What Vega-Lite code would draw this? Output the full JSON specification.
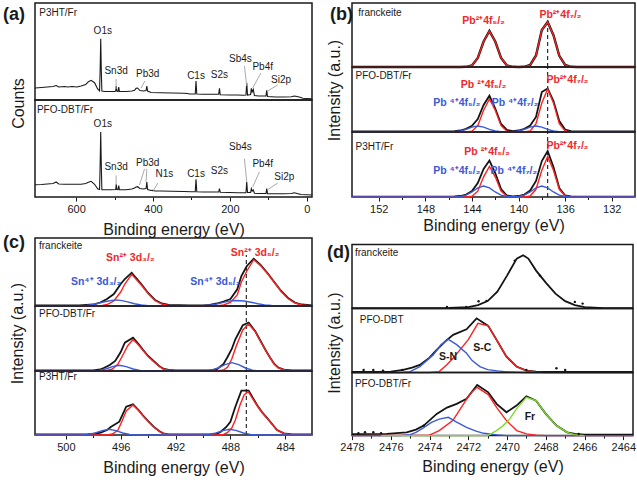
{
"$schema": "https://vega.github.io/schema/vega-lite/v6.json",
"background": "white",
"padding": {"left": 2, "top": 2, "right": 0, "bottom": 0},
"config": {
 "font": "Liberation Sans",
 "view": {"stroke": "#1a1a1a", "strokeWidth": 1.5},
 "text": {"font": "Liberation Sans"},
 "axis": {"grid": false, "domain": false, "tickColor": "#1a1a1a", "tickSize": 4, "tickWidth": 1, "labelFont": "Liberation Sans", "labelFontSize": 11, "labelColor": "#1a1a1a", "labelPadding": 2, "labelFlush": false, "labelOverlap": false, "titleFont": "Liberation Sans", "titleFontSize": 16, "titleFontWeight": "normal", "titleColor": "#1a1a1a"}
},
"spacing": 8,
"hconcat": [
 {"spacing": -6, "vconcat": [
  {"bounds": "flush", "spacing": 0, "vconcat": [
   {"width": 277, "height": 97,
    "encoding": {
     "x": {"field": "x", "type": "quantitative", "scale": {"domain": [707, -13.8], "nice": false, "zero": false}, "axis": null},
     "y": {"field": "y", "type": "quantitative", "scale": {"domain": [0, 97], "nice": false, "zero": false}, "axis": {"title": "Counts", "labels": false, "ticks": false, "titleY": 100, "titlePadding": 9}}},
    "layer": [
     {"data": {"values": [{"x":707,"y":12},{"x":690,"y":12.5},{"x":675,"y":13},{"x":660,"y":13.5},{"x":652,"y":14.5},{"x":645,"y":13},{"x":630,"y":13.5},{"x":622,"y":13},{"x":610,"y":13.5},{"x":598,"y":13},{"x":587,"y":14},{"x":575,"y":15.5},{"x":568,"y":18.3},{"x":561,"y":19.7},{"x":552,"y":17.3},{"x":544,"y":11},{"x":539,"y":9},{"x":537.5,"y":30},{"x":536,"y":61.3},{"x":534.5,"y":30},{"x":533,"y":9},{"x":525,"y":8.5},{"x":510,"y":8.5},{"x":500,"y":8.5},{"x":497,"y":9},{"x":495.5,"y":14},{"x":494,"y":9},{"x":491,"y":8.5},{"x":489,"y":13},{"x":487.5,"y":8.5},{"x":470,"y":8.5},{"x":455,"y":9},{"x":448,"y":9.7},{"x":444,"y":11.7},{"x":440,"y":12},{"x":434,"y":9.5},{"x":425,"y":9},{"x":418,"y":9.5},{"x":416,"y":14},{"x":414,"y":9},{"x":405,"y":7.5},{"x":380,"y":7.3},{"x":350,"y":7},{"x":320,"y":6.8},{"x":310,"y":6.5},{"x":305,"y":6},{"x":290,"y":6},{"x":288,"y":19},{"x":286,"y":6},{"x":270,"y":5.8},{"x":240,"y":5.7},{"x":229,"y":5.7},{"x":227,"y":11.7},{"x":225,"y":5.3},{"x":200,"y":5},{"x":180,"y":5},{"x":165,"y":4.8},{"x":158,"y":5},{"x":156,"y":17.3},{"x":154,"y":5},{"x":146,"y":5.5},{"x":144,"y":11.7},{"x":142,"y":8},{"x":139,"y":10.7},{"x":136,"y":4.5},{"x":125,"y":4},{"x":110,"y":4},{"x":106,"y":4},{"x":104,"y":9.7},{"x":102,"y":3.5},{"x":80,"y":3},{"x":60,"y":3},{"x":40,"y":3.2},{"x":32,"y":4},{"x":25,"y":3.5},{"x":15,"y":2.5},{"x":10,"y":1.7},{"x":0,"y":1.5},{"x":-13.8,"y":1.3}]},
      "mark": {"type": "line", "color": "#1a1a1a", "strokeWidth": 1.1}},
     {"data": {"values": [{"x":496,"y":11,"x2":496,"y2":21},{"x":431,"y":12,"x2":421,"y2":19},{"x":156,"y":14,"x2":162,"y2":34},{"x":140.5,"y":12,"x2":119,"y2":27},{"x":101.5,"y":9,"x2":75.5,"y2":15}]},
      "mark": {"type": "rule", "color": "#a0a0a0", "strokeWidth": 0.9}, "encoding": {"x2": {"field": "x2"}, "y2": {"field": "y2"}}},
     {"data": {"values": [{"x":530.6,"y":69,"t":"O1s"},{"x":496,"y":29,"t":"Sn3d"},{"x":413.6,"y":26.3,"t":"Pb3d"},{"x":288,"y":24,"t":"C1s"},{"x":227,"y":25,"t":"S2s"},{"x":172.6,"y":40.7,"t":"Sb4s"},{"x":114.5,"y":33,"t":"Pb4f"},{"x":66.8,"y":19.7,"t":"Si2p"}]},
      "mark": {"type": "text", "fontSize": 10, "color": "#1a1a1a"}, "encoding": {"text": {"field": "t"}}},
     {"data": {"values": [{"x":696,"y":87.3,"t":"P3HT/Fr"}]},
      "mark": {"type": "text", "align": "left", "fontSize": 10, "color": "#1a1a1a"}, "encoding": {"text": {"field": "t"}}},
     {"data": {"values": [{"x":790.3,"y":80,"t":"(a)"}]},
      "mark": {"type": "text", "align": "left", "baseline": "alphabetic", "fontSize": 18, "fontWeight": "bold", "color": "#1a1a1a"}, "encoding": {"text": {"field": "t"}}}
    ]},
   {"width": 277, "height": 97,
    "resolve": {"axis": {"x": "independent"}},
    "encoding": {
     "x": {"field": "x", "type": "quantitative", "scale": {"domain": [707, -13.8], "nice": false, "zero": false}, "axis": null},
     "y": {"field": "y", "type": "quantitative", "scale": {"domain": [0, 97], "nice": false, "zero": false}, "axis": null}},
    "layer": [
     {"data": {"values": [{"x":707,"y":12.3},{"x":690,"y":12.5},{"x":675,"y":13},{"x":660,"y":13.5},{"x":652,"y":15},{"x":645,"y":13},{"x":630,"y":12.7},{"x":610,"y":12.7},{"x":587,"y":12.7},{"x":575,"y":13.5},{"x":568,"y":14.7},{"x":561,"y":15.7},{"x":552,"y":12.7},{"x":544,"y":8.3},{"x":539,"y":7.5},{"x":537.5,"y":32},{"x":536,"y":65},{"x":534.5,"y":32},{"x":533,"y":7.3},{"x":525,"y":7.3},{"x":510,"y":7.3},{"x":497,"y":7.5},{"x":495.5,"y":12.7},{"x":494,"y":7.5},{"x":491,"y":7.3},{"x":489,"y":11.3},{"x":487.5,"y":7.3},{"x":470,"y":7.3},{"x":455,"y":8},{"x":448,"y":9},{"x":444,"y":10},{"x":440,"y":10.3},{"x":434,"y":8.5},{"x":425,"y":8},{"x":418,"y":8.5},{"x":416,"y":15},{"x":414,"y":7.5},{"x":405,"y":6.5},{"x":400,"y":6.8},{"x":395,"y":6},{"x":380,"y":6},{"x":350,"y":5.8},{"x":320,"y":5.5},{"x":300,"y":5.3},{"x":290,"y":5.3},{"x":288,"y":17.7},{"x":286,"y":5.2},{"x":270,"y":5},{"x":240,"y":5},{"x":229,"y":5},{"x":227,"y":8.3},{"x":225,"y":4.8},{"x":200,"y":4.5},{"x":180,"y":4.3},{"x":165,"y":4.2},{"x":158,"y":4.3},{"x":156,"y":15},{"x":154,"y":4.5},{"x":146,"y":4.5},{"x":144,"y":8.3},{"x":142,"y":6},{"x":139,"y":7},{"x":136,"y":3.8},{"x":125,"y":3.5},{"x":110,"y":3.5},{"x":106,"y":3.5},{"x":104,"y":8.3},{"x":102,"y":3.3},{"x":80,"y":3.3},{"x":60,"y":3.3},{"x":40,"y":3.5},{"x":32,"y":4.2},{"x":25,"y":3.5},{"x":15,"y":2.5},{"x":0,"y":2.3},{"x":-13.8,"y":2}]},
      "mark": {"type": "line", "color": "#1a1a1a", "strokeWidth": 1.1}},
     {"data": {"values": [{"x":496,"y":12,"x2":496,"y2":21.7},{"x":435,"y":12,"x2":422,"y2":28},{"x":418,"y":15,"x2":416,"y2":28},{"x":400.6,"y":5,"x2":387.6,"y2":14},{"x":156,"y":15,"x2":162,"y2":38.3},{"x":140.5,"y":10,"x2":123.2,"y2":25},{"x":101.5,"y":7.3,"x2":75.5,"y2":14}]},
      "mark": {"type": "rule", "color": "#a0a0a0", "strokeWidth": 0.9}, "encoding": {"x2": {"field": "x2"}, "y2": {"field": "y2"}}},
     {"data": {"values": [{"x":530.6,"y":72.7,"t":"O1s"},{"x":496,"y":30,"t":"Sn3d"},{"x":413.6,"y":34,"t":"Pb3d"},{"x":370.3,"y":22.7,"t":"N1s"},{"x":288,"y":23.3,"t":"C1s"},{"x":227.2,"y":26,"t":"S2s"},{"x":172.6,"y":50,"t":"Sb4s"},{"x":114.5,"y":32.7,"t":"Pb4f"},{"x":58.2,"y":20,"t":"Si2p"}]},
      "mark": {"type": "text", "fontSize": 10, "color": "#1a1a1a"}, "encoding": {"text": {"field": "t"}}},
     {"data": {"values": [{"x":702,"y":87,"t":"PFO-DBT/Fr"}]},
      "mark": {"type": "text", "align": "left", "fontSize": 10, "color": "#1a1a1a"}, "encoding": {"text": {"field": "t"}}},
     {"data": {"values": [{"x":600,"y":0}]}, "mark": {"type": "point", "opacity": 0},
      "encoding": {"x": {"field": "x", "type": "quantitative", "scale": {"domain": [707, -13.8], "nice": false, "zero": false}, "axis": {"orient": "bottom", "values": [600, 400, 200, 0], "format": "d", "title": "Binding energy (eV)", "titlePadding": 7}}}},
     {"data": {"values": [{"x":500,"y":0}]}, "mark": {"type": "point", "opacity": 0},
      "encoding": {"x": {"field": "x", "type": "quantitative", "scale": {"domain": [707, -13.8], "nice": false, "zero": false}, "axis": {"orient": "bottom", "values": [500, 300, 100], "labels": false, "tickSize": 2.5, "title": null}}}}
    ]}
  ]},
  {"bounds": "flush", "spacing": 0, "vconcat": [
   {"width": 277, "height": 68,
    "encoding": {
     "x": {"field": "x", "type": "quantitative", "scale": {"domain": [502.25, 482.05], "nice": false, "zero": false}, "axis": null},
     "y": {"field": "y", "type": "quantitative", "scale": {"domain": [0, 68], "nice": false, "zero": false}, "axis": null}},
    "layer": [
     {"data": {"values": [{"x":486.84,"y":0,"y2":51}]}, "mark": {"type": "rule", "color": "#1a1a1a", "strokeDash": [4, 3], "strokeWidth": 1.1}, "encoding": {"y2": {"field": "y2"}}},
     {"data": {"values": [{"x":502.25,"y":0.5},{"x":499,"y":0.5},{"x":498,"y":1.5},{"x":497.5,"y":3.5},{"x":497,"y":7},{"x":496.5,"y":12},{"x":496,"y":22},{"x":495.7,"y":27},{"x":495.2,"y":33.3},{"x":494.5,"y":22},{"x":494,"y":13},{"x":493.5,"y":6},{"x":493,"y":2.5},{"x":492.5,"y":1},{"x":491,"y":0.5},{"x":490,"y":0.5},{"x":489.5,"y":1},{"x":489,"y":2.5},{"x":488.5,"y":4.5},{"x":488,"y":7},{"x":487.5,"y":16.7},{"x":487.2,"y":30},{"x":486.8,"y":40},{"x":486.3,"y":47.3},{"x":485.8,"y":41},{"x":485.3,"y":33},{"x":484.8,"y":24},{"x":484.3,"y":15},{"x":483.8,"y":8},{"x":483.3,"y":3.5},{"x":482.8,"y":1.5},{"x":482.05,"y":0.5}]},
      "mark": {"type": "line", "color": "#141414", "strokeWidth": 1.8}},
     {"data": {"values": [{"x":502.25,"y":0},{"x":497.5,"y":0},{"x":497,"y":1.5},{"x":496.5,"y":5},{"x":496,"y":14},{"x":495.7,"y":22},{"x":495.2,"y":31.7},{"x":494.5,"y":21},{"x":494,"y":12.5},{"x":493.5,"y":5.5},{"x":493,"y":2},{"x":492.5,"y":0.5},{"x":492,"y":0},{"x":489,"y":0},{"x":488.5,"y":1},{"x":488,"y":3.5},{"x":487.5,"y":11},{"x":487.2,"y":24},{"x":486.8,"y":35},{"x":486.3,"y":46.3},{"x":485.8,"y":40.5},{"x":485.3,"y":32.5},{"x":484.8,"y":23.5},{"x":484.3,"y":14.5},{"x":483.8,"y":7.5},{"x":483.3,"y":3},{"x":482.8,"y":1},{"x":482.05,"y":0}]},
      "mark": {"type": "line", "color": "#ff2020", "strokeWidth": 1.4}},
     {"data": {"values": [{"x":502.25,"y":0},{"x":499.5,"y":0},{"x":499,"y":0.1},{"x":498.5,"y":0.5},{"x":498,"y":1.5},{"x":497.5,"y":3.2},{"x":497,"y":4.8},{"x":496.5,"y":5.9},{"x":496.4,"y":6},{"x":496,"y":5.6},{"x":495.5,"y":4.1},{"x":495,"y":2.3},{"x":494.5,"y":1},{"x":494,"y":0.3},{"x":493.5,"y":0.1},{"x":493,"y":0},{"x":491,"y":0},{"x":490.5,"y":0.1},{"x":490,"y":0.3},{"x":489.5,"y":0.9},{"x":489,"y":2},{"x":488.5,"y":3.6},{"x":488,"y":5.1},{"x":487.6,"y":5.5},{"x":487,"y":5},{"x":486.5,"y":3.8},{"x":486,"y":2.3},{"x":485.5,"y":1.1},{"x":485,"y":0.5},{"x":484.5,"y":0.15},{"x":484,"y":0},{"x":482.05,"y":0}]},
      "mark": {"type": "line", "color": "#3a5ad8", "strokeWidth": 1.4}},
     {"data": {"values": [{"x":501.96,"y":59.7,"t":"franckeite"}]}, "mark": {"type": "text", "align": "left", "fontSize": 10, "color": "#1a1a1a"}, "encoding": {"text": {"field": "t"}}},
     {"data": {"values": [{"x":495.3,"y":48.4,"t":"Sn²⁺ 3d₃/₂"},{"x":486.2,"y":53.4,"t":"Sn²⁺ 3d₅/₂"}]}, "mark": {"type": "text", "fontSize": 10.5, "fontWeight": "bold", "color": "#f0282d"}, "encoding": {"text": {"field": "t"}}},
     {"data": {"values": [{"x":497.8,"y":24,"t":"Sn⁴⁺ 3d₃/₂"},{"x":489.1,"y":24,"t":"Sn⁴⁺ 3d₅/₂"}]}, "mark": {"type": "text", "fontSize": 10.5, "fontWeight": "bold", "color": "#3a5ad8"}, "encoding": {"text": {"field": "t"}}},
     {"data": {"values": [{"x":504.58,"y":58,"t":"(c)"}]},
      "mark": {"type": "text", "align": "left", "baseline": "alphabetic", "fontSize": 18, "fontWeight": "bold", "color": "#1a1a1a"}, "encoding": {"text": {"field": "t"}}}
    ]},
   {"width": 277, "height": 65,
    "encoding": {
     "x": {"field": "x", "type": "quantitative", "scale": {"domain": [502.25, 482.05], "nice": false, "zero": false}, "axis": null},
     "y": {"field": "y", "type": "quantitative", "scale": {"domain": [0, 65], "nice": false, "zero": false}, "axis": {"title": "Intensity (a.u.)", "labels": false, "ticks": false, "titleY": 27, "titlePadding": 9.5}}},
    "layer": [
     {"data": {"values": [{"x":486.84,"y":0,"y2":65}]}, "mark": {"type": "rule", "color": "#1a1a1a", "strokeDash": [4, 3], "strokeWidth": 1.1}, "encoding": {"y2": {"field": "y2"}}},
     {"data": {"values": [{"x":502.25,"y":0.5},{"x":498,"y":0.5},{"x":497.5,"y":1.5},{"x":497.2,"y":3.3},{"x":496.8,"y":6},{"x":496.4,"y":10},{"x":496,"y":19},{"x":495.7,"y":28.3},{"x":495.1,"y":33.3},{"x":494.7,"y":27},{"x":494.4,"y":21.7},{"x":494,"y":15},{"x":493.6,"y":10},{"x":493.2,"y":5},{"x":492.9,"y":2.3},{"x":492.5,"y":1},{"x":492,"y":0.5},{"x":489.5,"y":0.5},{"x":489,"y":1.5},{"x":488.85,"y":3.3},{"x":488.5,"y":7},{"x":488.24,"y":13.3},{"x":487.9,"y":22},{"x":487.64,"y":31.7},{"x":487.1,"y":45.7},{"x":486.67,"y":48.3},{"x":486.2,"y":40},{"x":485.8,"y":30},{"x":485.4,"y":20},{"x":485.1,"y":13.3},{"x":484.8,"y":7},{"x":484.5,"y":3.3},{"x":484,"y":1},{"x":483.5,"y":0.5},{"x":482.05,"y":0.5}]},
      "mark": {"type": "line", "color": "#141414", "strokeWidth": 1.8}},
     {"data": {"values": [{"x":502.25,"y":0},{"x":497.5,"y":0},{"x":497,"y":0.5},{"x":496.6,"y":2},{"x":496.2,"y":7},{"x":495.8,"y":17},{"x":495.5,"y":25},{"x":495.1,"y":31.5},{"x":494.7,"y":26},{"x":494.4,"y":21},{"x":494,"y":14.5},{"x":493.6,"y":9.5},{"x":493.2,"y":4.8},{"x":492.9,"y":2},{"x":492.5,"y":0.7},{"x":492,"y":0},{"x":489,"y":0},{"x":488.5,"y":1},{"x":488.2,"y":4},{"x":487.9,"y":12},{"x":487.6,"y":24},{"x":487.1,"y":41},{"x":486.67,"y":47},{"x":486.2,"y":39.5},{"x":485.8,"y":29.5},{"x":485.4,"y":19.8},{"x":485.1,"y":13},{"x":484.8,"y":6.8},{"x":484.5,"y":3},{"x":484,"y":0.8},{"x":483.5,"y":0},{"x":482.05,"y":0}]},
      "mark": {"type": "line", "color": "#ff2020", "strokeWidth": 1.4}},
     {"data": {"values": [{"x":502.25,"y":0},{"x":498.6,"y":0},{"x":498.1,"y":0.1},{"x":497.6,"y":0.57},{"x":497.1,"y":2.05},{"x":496.6,"y":4.4},{"x":496.1,"y":5.7},{"x":495.6,"y":4.4},{"x":495.1,"y":2.05},{"x":494.6,"y":0.57},{"x":494.1,"y":0.1},{"x":493.6,"y":0},{"x":490.4,"y":0},{"x":489.9,"y":0.14},{"x":489.4,"y":0.83},{"x":488.9,"y":3},{"x":488.4,"y":6.4},{"x":487.9,"y":8.3},{"x":487.4,"y":6.4},{"x":486.9,"y":3},{"x":486.4,"y":0.83},{"x":485.9,"y":0.14},{"x":485.4,"y":0},{"x":482.05,"y":0}]},
      "mark": {"type": "line", "color": "#3a5ad8", "strokeWidth": 1.4}},
     {"data": {"values": [{"x":501.96,"y":56.7,"t":"PFO-DBT/Fr"}]}, "mark": {"type": "text", "align": "left", "fontSize": 10, "color": "#1a1a1a"}, "encoding": {"text": {"field": "t"}}}
    ]},
   {"width": 277, "height": 64,
    "resolve": {"axis": {"x": "independent"}},
    "encoding": {
     "x": {"field": "x", "type": "quantitative", "scale": {"domain": [502.25, 482.05], "nice": false, "zero": false}, "axis": null},
     "y": {"field": "y", "type": "quantitative", "scale": {"domain": [0, 64], "nice": false, "zero": false}, "axis": null}},
    "layer": [
     {"data": {"values": [{"x":486.84,"y":0,"y2":64}]}, "mark": {"type": "rule", "color": "#1a1a1a", "strokeDash": [4, 3], "strokeWidth": 1.1}, "encoding": {"y2": {"field": "y2"}}},
     {"data": {"values": [{"x":502.25,"y":0.5},{"x":498.5,"y":0.5},{"x":498,"y":1},{"x":497.45,"y":2.3},{"x":497,"y":5},{"x":496.7,"y":8.3},{"x":496.1,"y":13.3},{"x":495.6,"y":28.3},{"x":495.1,"y":30.7},{"x":494.7,"y":25},{"x":494.4,"y":20},{"x":494,"y":14},{"x":493.6,"y":8.3},{"x":493.2,"y":4},{"x":492.9,"y":1.7},{"x":492.5,"y":0.7},{"x":492,"y":0.5},{"x":489.5,"y":0.5},{"x":489,"y":1.2},{"x":488.7,"y":3.3},{"x":488.3,"y":8},{"x":488,"y":13.3},{"x":487.64,"y":28.3},{"x":487.2,"y":44.3},{"x":486.67,"y":44.3},{"x":486.06,"y":30},{"x":485.7,"y":23},{"x":485.3,"y":16.7},{"x":484.9,"y":10},{"x":484.6,"y":5},{"x":484.1,"y":1.7},{"x":483.5,"y":0.5},{"x":482.05,"y":0.5}]},
      "mark": {"type": "line", "color": "#141414", "strokeWidth": 1.8}},
     {"data": {"values": [{"x":502.25,"y":0},{"x":497,"y":0},{"x":496.6,"y":1},{"x":496.2,"y":5},{"x":495.9,"y":14},{"x":495.6,"y":24},{"x":495.1,"y":30},{"x":494.7,"y":24.5},{"x":494.4,"y":19.5},{"x":494,"y":13.5},{"x":493.6,"y":8},{"x":493.2,"y":3.8},{"x":492.9,"y":1.5},{"x":492.5,"y":0.5},{"x":492,"y":0},{"x":489,"y":0},{"x":488.5,"y":0.5},{"x":488.2,"y":2.5},{"x":487.9,"y":7},{"x":487.64,"y":15},{"x":487.3,"y":30},{"x":487,"y":40},{"x":486.7,"y":43.3},{"x":486.06,"y":29.5},{"x":485.7,"y":22.5},{"x":485.3,"y":16.3},{"x":484.9,"y":9.7},{"x":484.6,"y":4.8},{"x":484.1,"y":1.5},{"x":483.5,"y":0},{"x":482.05,"y":0}]},
      "mark": {"type": "line", "color": "#ff2020", "strokeWidth": 1.4}},
     {"data": {"values": [{"x":502.25,"y":0},{"x":499.35,"y":0},{"x":498.85,"y":0.1},{"x":498.35,"y":0.57},{"x":497.85,"y":2.05},{"x":497.35,"y":4.4},{"x":496.85,"y":5.7},{"x":496.35,"y":4.4},{"x":495.85,"y":2.05},{"x":495.35,"y":0.57},{"x":494.85,"y":0.1},{"x":494.35,"y":0},{"x":490.55,"y":0},{"x":490.05,"y":0.1},{"x":489.55,"y":0.57},{"x":489.05,"y":2.05},{"x":488.55,"y":4.4},{"x":488.05,"y":5.7},{"x":487.55,"y":4.4},{"x":487.05,"y":2.05},{"x":486.55,"y":0.57},{"x":486.05,"y":0.1},{"x":485.55,"y":0},{"x":482.05,"y":0}]},
      "mark": {"type": "line", "color": "#3a5ad8", "strokeWidth": 1.4}},
     {"data": {"values": [{"x":501.96,"y":58.3,"t":"P3HT/Fr"}]}, "mark": {"type": "text", "align": "left", "fontSize": 10, "color": "#1a1a1a"}, "encoding": {"text": {"field": "t"}}},
     {"data": {"values": [{"x":496,"y":0}]}, "mark": {"type": "point", "opacity": 0},
      "encoding": {"x": {"field": "x", "type": "quantitative", "scale": {"domain": [502.25, 482.05], "nice": false, "zero": false}, "axis": {"orient": "bottom", "values": [500, 496, 492, 488, 484], "format": "d", "title": "Binding energy (eV)", "titlePadding": 7}}}},
     {"data": {"values": [{"x":498,"y":0}]}, "mark": {"type": "point", "opacity": 0},
      "encoding": {"x": {"field": "x", "type": "quantitative", "scale": {"domain": [502.25, 482.05], "nice": false, "zero": false}, "axis": {"orient": "bottom", "values": [498, 494, 490, 486], "labels": false, "tickSize": 2.5, "title": null}}}}
    ]}
  ]}
 ]},
 {"spacing": 8.6, "vconcat": [
  {"bounds": "flush", "spacing": 0, "vconcat": [
   {"width": 283, "height": 64,
    "encoding": {
     "x": {"field": "x", "type": "quantitative", "scale": {"domain": [154.3, 130], "nice": false, "zero": false}, "axis": null},
     "y": {"field": "y", "type": "quantitative", "scale": {"domain": [0, 64], "nice": false, "zero": false}, "axis": null}},
    "layer": [
     {"data": {"values": [{"x":137.5,"y":0,"y2":49}]}, "mark": {"type": "rule", "color": "#1a1a1a", "strokeDash": [4, 3], "strokeWidth": 1.1}, "encoding": {"y2": {"field": "y2"}}},
     {"data": {"values": [{"x":154.3,"y":0},{"x":146,"y":0},{"x":145,"y":0},{"x":144.5,"y":0.2},{"x":144,"y":1.6},{"x":143.5,"y":9},{"x":143,"y":25.5},{"x":142.5,"y":36},{"x":142,"y":25.5},{"x":141.5,"y":9},{"x":141,"y":1.6},{"x":140.5,"y":0.2},{"x":140,"y":0},{"x":139.5,"y":0.2},{"x":139,"y":2},{"x":138.5,"y":11.5},{"x":138,"y":37},{"x":137.5,"y":45},{"x":137,"y":31.8},{"x":136.5,"y":11.2},{"x":136,"y":2},{"x":135.5,"y":0.2},{"x":135,"y":0},{"x":130,"y":0}]},
      "mark": {"type": "line", "color": "#141414", "strokeWidth": 2.4}},
     {"data": {"values": [{"x":154.3,"y":0},{"x":146,"y":0},{"x":145,"y":0},{"x":144.5,"y":0.2},{"x":144,"y":1.6},{"x":143.5,"y":9},{"x":143,"y":25.5},{"x":142.5,"y":36},{"x":142,"y":25.5},{"x":141.5,"y":9},{"x":141,"y":1.6},{"x":140.5,"y":0.2},{"x":140,"y":0},{"x":139.5,"y":0.2},{"x":139,"y":2},{"x":138.5,"y":11.5},{"x":138,"y":37},{"x":137.5,"y":45},{"x":137,"y":31.8},{"x":136.5,"y":11.2},{"x":136,"y":2},{"x":135.5,"y":0.2},{"x":135,"y":0},{"x":130,"y":0}]},
      "mark": {"type": "line", "color": "#ff2020", "strokeWidth": 1.3}},
     {"data": {"values": [{"x":153.76,"y":54.3,"t":"franckeite"}]}, "mark": {"type": "text", "align": "left", "fontSize": 10, "color": "#1a1a1a"}, "encoding": {"text": {"field": "t"}}},
     {"data": {"values": [{"x":143,"y":46.3,"t":"Pb²⁺4f₅/₂"},{"x":136.4,"y":52,"t":"Pb²⁺4f₇/₂"}]}, "mark": {"type": "text", "fontSize": 10.5, "fontWeight": "bold", "color": "#f0282d"}, "encoding": {"text": {"field": "t"}}},
     {"data": {"values": [{"x":156.19,"y":47,"t":"(b)"}]},
      "mark": {"type": "text", "align": "left", "baseline": "alphabetic", "fontSize": 18, "fontWeight": "bold", "color": "#1a1a1a"}, "encoding": {"text": {"field": "t"}}}
    ]},
   {"width": 283, "height": 65,
    "encoding": {
     "x": {"field": "x", "type": "quantitative", "scale": {"domain": [154.3, 130], "nice": false, "zero": false}, "axis": null},
     "y": {"field": "y", "type": "quantitative", "scale": {"domain": [0, 65], "nice": false, "zero": false}, "axis": {"title": "Intensity (a.u.)", "labels": false, "ticks": false, "titleY": 23, "titlePadding": 9.5}}},
    "layer": [
     {"data": {"values": [{"x":137.5,"y":0,"y2":65}]}, "mark": {"type": "rule", "color": "#1a1a1a", "strokeDash": [4, 3], "strokeWidth": 1.1}, "encoding": {"y2": {"field": "y2"}}},
     {"data": {"values": [{"x":154.3,"y":0.5},{"x":148,"y":0.5},{"x":146,"y":0.6},{"x":145.5,"y":0.8},{"x":145,"y":1.5},{"x":144.5,"y":3.2},{"x":144,"y":6.2},{"x":143.5,"y":13},{"x":143,"y":27},{"x":142.5,"y":36.3},{"x":142,"y":23.5},{"x":141.5,"y":8},{"x":141,"y":2},{"x":140.5,"y":0.8},{"x":140,"y":1.5},{"x":139.5,"y":3.2},{"x":139,"y":6.5},{"x":138.5,"y":15},{"x":138,"y":40},{"x":137.5,"y":43.5},{"x":137,"y":31},{"x":136.5,"y":11},{"x":136,"y":2.5},{"x":135.5,"y":0.8},{"x":135,"y":0.5},{"x":130,"y":0.5}]},
      "mark": {"type": "line", "color": "#141414", "strokeWidth": 1.8}},
     {"data": {"values": [{"x":154.3,"y":0},{"x":145,"y":0},{"x":144.5,"y":0.05},{"x":144,"y":0.8},{"x":143.5,"y":6.3},{"x":143,"y":21.8},{"x":142.5,"y":33},{"x":142,"y":21.8},{"x":141.5,"y":6.3},{"x":141,"y":0.8},{"x":140.5,"y":0.05},{"x":140,"y":0},{"x":139.5,"y":0.05},{"x":139,"y":1.1},{"x":138.5,"y":8.4},{"x":138,"y":29.1},{"x":137.5,"y":43},{"x":137,"y":29.1},{"x":136.5,"y":8.4},{"x":136,"y":1.1},{"x":135.5,"y":0.05},{"x":135,"y":0},{"x":130,"y":0}]},
      "mark": {"type": "line", "color": "#ff2020", "strokeWidth": 1.4}},
     {"data": {"values": [{"x":154.3,"y":0},{"x":146.5,"y":0},{"x":146,"y":0.05},{"x":145.5,"y":0.26},{"x":145,"y":1},{"x":144.5,"y":2.7},{"x":144,"y":4.9},{"x":143.5,"y":6},{"x":143,"y":4.9},{"x":142.5,"y":2.7},{"x":142,"y":1},{"x":141.5,"y":0.26},{"x":141,"y":0.1},{"x":140.5,"y":0.26},{"x":140,"y":1},{"x":139.5,"y":2.7},{"x":139,"y":4.9},{"x":138.5,"y":6},{"x":138,"y":4.9},{"x":137.5,"y":2.7},{"x":137,"y":1},{"x":136.5,"y":0.26},{"x":136,"y":0.05},{"x":135.5,"y":0},{"x":130,"y":0}]},
      "mark": {"type": "line", "color": "#3a5ad8", "strokeWidth": 1.4}},
     {"data": {"values": [{"x":154.0,"y":56,"t":"PFO-DBT/Fr"}]}, "mark": {"type": "text", "align": "left", "fontSize": 10, "color": "#1a1a1a"}, "encoding": {"text": {"field": "t"}}},
     {"data": {"values": [{"x":143,"y":47,"t":"Pb ²⁺4f₅/₂"},{"x":135.8,"y":52,"t":"Pb²⁺4f₇/₂"}]}, "mark": {"type": "text", "fontSize": 10.5, "fontWeight": "bold", "color": "#f0282d"}, "encoding": {"text": {"field": "t"}}},
     {"data": {"values": [{"x":145.3,"y":29.3,"t":"Pb ⁴⁺4f₅/₂"},{"x":140.3,"y":29.3,"t":"Pb ⁴⁺4f₇/₂"}]}, "mark": {"type": "text", "fontSize": 10.5, "fontWeight": "bold", "color": "#3a5ad8"}, "encoding": {"text": {"field": "t"}}}
    ]},
   {"width": 283, "height": 65,
    "resolve": {"axis": {"x": "independent"}},
    "encoding": {
     "x": {"field": "x", "type": "quantitative", "scale": {"domain": [154.3, 130], "nice": false, "zero": false}, "axis": null},
     "y": {"field": "y", "type": "quantitative", "scale": {"domain": [0, 65], "nice": false, "zero": false}, "axis": null}},
    "layer": [
     {"data": {"values": [{"x":137.5,"y":0,"y2":65}]}, "mark": {"type": "rule", "color": "#1a1a1a", "strokeDash": [4, 3], "strokeWidth": 1.1}, "encoding": {"y2": {"field": "y2"}}},
     {"data": {"values": [{"x":154.3,"y":0.3},{"x":146,"y":0.3},{"x":145.5,"y":0.5},{"x":145,"y":1},{"x":144.5,"y":2.5},{"x":144,"y":6},{"x":143.5,"y":14},{"x":143,"y":28},{"x":142.5,"y":36.5},{"x":142,"y":24},{"x":141.5,"y":8},{"x":141,"y":1.5},{"x":140.5,"y":0.5},{"x":140,"y":1},{"x":139.5,"y":2.5},{"x":139,"y":6.5},{"x":138.5,"y":16},{"x":138,"y":36},{"x":137.5,"y":46},{"x":137,"y":30},{"x":136.5,"y":9},{"x":136,"y":1.5},{"x":135.5,"y":0.5},{"x":135,"y":0.3},{"x":130,"y":0.3}]},
      "mark": {"type": "line", "color": "#141414", "strokeWidth": 1.8}},
     {"data": {"values": [{"x":154.3,"y":0},{"x":144.5,"y":0},{"x":144,"y":0.7},{"x":143.5,"y":5.8},{"x":143,"y":20.2},{"x":142.5,"y":30.5},{"x":142,"y":20.2},{"x":141.5,"y":5.8},{"x":141,"y":0.7},{"x":140.5,"y":0},{"x":139.5,"y":0},{"x":139,"y":1},{"x":138.5,"y":7.7},{"x":138,"y":26.8},{"x":137.5,"y":40.5},{"x":137,"y":26.8},{"x":136.5,"y":7.7},{"x":136,"y":1},{"x":135.5,"y":0},{"x":130,"y":0}]},
      "mark": {"type": "line", "color": "#ff2020", "strokeWidth": 1.4}},
     {"data": {"values": [{"x":154.3,"y":0},{"x":146,"y":0},{"x":145.5,"y":0.08},{"x":145,"y":0.48},{"x":144.5,"y":1.9},{"x":144,"y":5.04},{"x":143.5,"y":9.05},{"x":143,"y":11},{"x":142.5,"y":9.05},{"x":142,"y":5.04},{"x":141.5,"y":1.9},{"x":141,"y":0.5},{"x":140.5,"y":0.2},{"x":140,"y":0.5},{"x":139.5,"y":1.9},{"x":139,"y":5.04},{"x":138.5,"y":9.05},{"x":138,"y":11},{"x":137.5,"y":9.05},{"x":137,"y":5.04},{"x":136.5,"y":1.9},{"x":136,"y":0.48},{"x":135.5,"y":0.08},{"x":135,"y":0},{"x":130,"y":0}]},
      "mark": {"type": "line", "color": "#3a5ad8", "strokeWidth": 1.4}},
     {"data": {"values": [{"x":154.0,"y":50.3,"t":"P3HT/Fr"}]}, "mark": {"type": "text", "align": "left", "fontSize": 10, "color": "#1a1a1a"}, "encoding": {"text": {"field": "t"}}},
     {"data": {"values": [{"x":142.7,"y":45.3,"t":"Pb ²⁺4f₅/₂"},{"x":135.8,"y":51.3,"t":"Pb²⁺4f₇/₂"}]}, "mark": {"type": "text", "fontSize": 10.5, "fontWeight": "bold", "color": "#f0282d"}, "encoding": {"text": {"field": "t"}}},
     {"data": {"values": [{"x":145.3,"y":26.3,"t":"Pb ⁴⁺4f₅/₂"},{"x":140.4,"y":26.3,"t":"Pb ⁴⁺4f₇/₂"}]}, "mark": {"type": "text", "fontSize": 10.5, "fontWeight": "bold", "color": "#3a5ad8"}, "encoding": {"text": {"field": "t"}}},
     {"data": {"values": [{"x":140,"y":0}]}, "mark": {"type": "point", "opacity": 0},
      "encoding": {"x": {"field": "x", "type": "quantitative", "scale": {"domain": [154.3, 130], "nice": false, "zero": false}, "axis": {"orient": "bottom", "values": [152, 148, 144, 140, 136, 132], "format": "d", "title": "Binding energy (eV)", "titlePadding": 3}}}},
     {"data": {"values": [{"x":150,"y":0}]}, "mark": {"type": "point", "opacity": 0},
      "encoding": {"x": {"field": "x", "type": "quantitative", "scale": {"domain": [154.3, 130], "nice": false, "zero": false}, "axis": {"orient": "bottom", "values": [150, 146, 142, 138, 134], "labels": false, "tickSize": 2.5, "title": null}}}}
    ]}
  ]},
  {"bounds": "flush", "spacing": 0, "vconcat": [
   {"width": 281, "height": 64,
    "encoding": {
     "x": {"field": "x", "type": "quantitative", "scale": {"domain": [2478, 2463.5], "nice": false, "zero": false}, "axis": null},
     "y": {"field": "y", "type": "quantitative", "scale": {"domain": [0, 64], "nice": false, "zero": false}, "axis": null}},
    "layer": [
     {"data": {"values": [{"x":2478,"y":0.5},{"x":2474,"y":0.5},{"x":2473,"y":0.7},{"x":2472,"y":1.5},{"x":2471.5,"y":3.5},{"x":2471,"y":7.5},{"x":2470.5,"y":17},{"x":2470,"y":33},{"x":2469.5,"y":50},{"x":2469.17,"y":53.3},{"x":2468.9,"y":50},{"x":2468.5,"y":38},{"x":2468,"y":26},{"x":2467.5,"y":15},{"x":2467,"y":7.5},{"x":2466.5,"y":3.5},{"x":2466,"y":1.5},{"x":2465,"y":0.5},{"x":2463.5,"y":0.5}]},
      "mark": {"type": "line", "color": "#141414", "strokeWidth": 1.8}},
     {"data": {"values": [{"x":2473.1,"y":1.7},{"x":2472.1,"y":1.7},{"x":2471.47,"y":7.3},{"x":2471.06,"y":7.7},{"x":2469.6,"y":48},{"x":2468.3,"y":33},{"x":2466.5,"y":6.7},{"x":2466.1,"y":5}]},
      "mark": {"type": "point", "filled": true, "size": 6, "color": "#141414", "opacity": 1}},
     {"data": {"values": [{"x":2477.85,"y":55.6,"t":"franckeite"}]}, "mark": {"type": "text", "align": "left", "fontSize": 10, "color": "#1a1a1a"}, "encoding": {"text": {"field": "t"}}},
     {"data": {"values": [{"x":2479.29,"y":51,"t":"(d)"}]},
      "mark": {"type": "text", "align": "left", "baseline": "alphabetic", "fontSize": 18, "fontWeight": "bold", "color": "#1a1a1a"}, "encoding": {"text": {"field": "t"}}}
    ]},
   {"width": 281, "height": 64,
    "encoding": {
     "x": {"field": "x", "type": "quantitative", "scale": {"domain": [2478, 2463.5], "nice": false, "zero": false}, "axis": null},
     "y": {"field": "y", "type": "quantitative", "scale": {"domain": [0, 64], "nice": false, "zero": false}, "axis": {"title": "Intensity (a.u.)", "labels": false, "ticks": false, "titleY": 34, "titlePadding": 9.5}}},
    "layer": [
     {"data": {"values": [{"x":2478,"y":0.7},{"x":2476,"y":1},{"x":2475.36,"y":2.7},{"x":2474.9,"y":5},{"x":2474.5,"y":7.7},{"x":2474,"y":15},{"x":2473.63,"y":22.7},{"x":2473.2,"y":31},{"x":2472.78,"y":37.7},{"x":2472.09,"y":43.3},{"x":2471.57,"y":54.3},{"x":2470.97,"y":46.7},{"x":2470.54,"y":32.7},{"x":2470.03,"y":16},{"x":2469.51,"y":6},{"x":2469,"y":2},{"x":2468.5,"y":1},{"x":2467,"y":0.7},{"x":2463.5,"y":0.7}]},
      "mark": {"type": "line", "color": "#141414", "strokeWidth": 1.8}},
     {"data": {"values": [{"x":2478,"y":0},{"x":2474,"y":0},{"x":2473.5,"y":1},{"x":2473.12,"y":7.7},{"x":2472.8,"y":14},{"x":2472.43,"y":22.7},{"x":2472,"y":33},{"x":2471.5,"y":49.3},{"x":2470.97,"y":46.7},{"x":2470.54,"y":32.7},{"x":2470.03,"y":16},{"x":2469.51,"y":6},{"x":2469,"y":2},{"x":2468.5,"y":0.5},{"x":2468,"y":0},{"x":2463.5,"y":0}]},
      "mark": {"type": "line", "color": "#ff2020", "strokeWidth": 1.4}},
     {"data": {"values": [{"x":2478,"y":0},{"x":2475.5,"y":0},{"x":2475,"y":1},{"x":2474.5,"y":6},{"x":2473.81,"y":17.7},{"x":2473.4,"y":28},{"x":2473.03,"y":33.3},{"x":2472.6,"y":28},{"x":2472.09,"y":19.3},{"x":2471.8,"y":12},{"x":2471.4,"y":6},{"x":2471,"y":3},{"x":2470.5,"y":1.7},{"x":2470,"y":0.7},{"x":2469,"y":0},{"x":2463.5,"y":0}]},
      "mark": {"type": "line", "color": "#3a5ad8", "strokeWidth": 1.4}},
     {"data": {"values": [{"x":2477.4,"y":2.7},{"x":2476.9,"y":2.7},{"x":2476.4,"y":2},{"x":2475.4,"y":2.7},{"x":2469,"y":2.7},{"x":2467.45,"y":4.3},{"x":2467,"y":2.7}]},
      "mark": {"type": "point", "filled": true, "size": 6, "color": "#141414", "opacity": 1}},
     {"data": {"values": [{"x":2477.6,"y":52.7,"t":"PFO-DBT"}]}, "mark": {"type": "text", "align": "left", "fontSize": 10, "color": "#1a1a1a"}, "encoding": {"text": {"field": "t"}}},
     {"data": {"values": [{"x":2473.04,"y":16,"t":"S-N"},{"x":2471.28,"y":24.4,"t":"S-C"}]}, "mark": {"type": "text", "fontSize": 10.5, "fontWeight": "bold", "color": "#1a1a1a"}, "encoding": {"text": {"field": "t"}}}
    ]},
   {"width": 281, "height": 63,
    "resolve": {"axis": {"x": "independent"}},
    "encoding": {
     "x": {"field": "x", "type": "quantitative", "scale": {"domain": [2478, 2463.5], "nice": false, "zero": false}, "axis": null},
     "y": {"field": "y", "type": "quantitative", "scale": {"domain": [0, 63], "nice": false, "zero": false}, "axis": null}},
    "layer": [
     {"data": {"values": [{"x":2478,"y":1.5},{"x":2476.2,"y":1.7},{"x":2475.18,"y":3.3},{"x":2474.7,"y":6},{"x":2474.3,"y":10},{"x":2473.63,"y":21.7},{"x":2473.1,"y":28},{"x":2472.6,"y":31.7},{"x":2472.09,"y":36.7},{"x":2471.54,"y":50.7},{"x":2470.97,"y":43.3},{"x":2470.54,"y":31.7},{"x":2470.03,"y":23.3},{"x":2469.51,"y":30},{"x":2469,"y":39.3},{"x":2468.5,"y":35},{"x":2468,"y":21.7},{"x":2467.45,"y":10},{"x":2466.9,"y":3.3},{"x":2466.5,"y":1.7},{"x":2466,"y":1},{"x":2463.5,"y":1}]},
      "mark": {"type": "line", "color": "#141414", "strokeWidth": 1.8}},
     {"data": {"values": [{"x":2478,"y":0},{"x":2474,"y":0.5},{"x":2473.5,"y":5},{"x":2472.8,"y":15},{"x":2472.3,"y":30},{"x":2471.9,"y":42},{"x":2471.54,"y":48.3},{"x":2470.97,"y":41},{"x":2470.54,"y":28.3},{"x":2470.03,"y":15},{"x":2469.5,"y":5},{"x":2469,"y":1.7},{"x":2468.5,"y":0.5},{"x":2468,"y":0},{"x":2463.5,"y":0}]},
      "mark": {"type": "line", "color": "#ff2020", "strokeWidth": 1.4}},
     {"data": {"values": [{"x":2478,"y":0},{"x":2475.5,"y":0},{"x":2475,"y":1},{"x":2474.7,"y":3.3},{"x":2474.3,"y":8},{"x":2473.9,"y":13.3},{"x":2473.5,"y":16.5},{"x":2473.03,"y":18.3},{"x":2472.6,"y":13.5},{"x":2472.09,"y":8.3},{"x":2471.6,"y":4.5},{"x":2471.2,"y":2.3},{"x":2470.5,"y":0.7},{"x":2470,"y":0},{"x":2463.5,"y":0}]},
      "mark": {"type": "line", "color": "#3a5ad8", "strokeWidth": 1.4}},
     {"data": {"values": [{"x":2476.5,"y":0},{"x":2471,"y":0},{"x":2470.54,"y":5},{"x":2470.2,"y":10},{"x":2469.86,"y":16.7},{"x":2469.5,"y":27},{"x":2469,"y":38.3},{"x":2468.5,"y":35},{"x":2468,"y":21.7},{"x":2467.45,"y":10},{"x":2466.9,"y":3.3},{"x":2466.5,"y":1},{"x":2466,"y":0}]},
      "mark": {"type": "line", "color": "#7ddc2a", "strokeWidth": 1.4}},
     {"data": {"values": [{"x":2477.67,"y":2.3},{"x":2477.33,"y":3.3},{"x":2476.9,"y":3.3},{"x":2476.5,"y":2.3},{"x":2474.3,"y":10},{"x":2466.3,"y":1.7}]},
      "mark": {"type": "point", "filled": true, "size": 6, "color": "#141414", "opacity": 1}},
     {"data": {"values": [{"x":2477.85,"y":51.7,"t":"PFO-DBT/Fr"}]}, "mark": {"type": "text", "align": "left", "fontSize": 10, "color": "#1a1a1a"}, "encoding": {"text": {"field": "t"}}},
     {"data": {"values": [{"x":2468.82,"y":18.3,"t":"Fr"}]}, "mark": {"type": "text", "fontSize": 10.5, "fontWeight": "bold", "color": "#1a1a1a"}, "encoding": {"text": {"field": "t"}}},
     {"data": {"values": [{"x":2470,"y":0}]}, "mark": {"type": "point", "opacity": 0},
      "encoding": {"x": {"field": "x", "type": "quantitative", "scale": {"domain": [2478, 2463.5], "nice": false, "zero": false}, "axis": {"orient": "bottom", "values": [2478, 2476, 2474, 2472, 2470, 2468, 2466, 2464], "format": "d", "title": "Binding energy (eV)", "titlePadding": 6}}}},
     {"data": {"values": [{"x":2477,"y":0}]}, "mark": {"type": "point", "opacity": 0},
      "encoding": {"x": {"field": "x", "type": "quantitative", "scale": {"domain": [2478, 2463.5], "nice": false, "zero": false}, "axis": {"orient": "bottom", "values": [2477, 2475, 2473, 2471, 2469, 2467, 2465], "labels": false, "tickSize": 2.5, "title": null}}}}
    ]}
  ]}
 ]}
]
}
